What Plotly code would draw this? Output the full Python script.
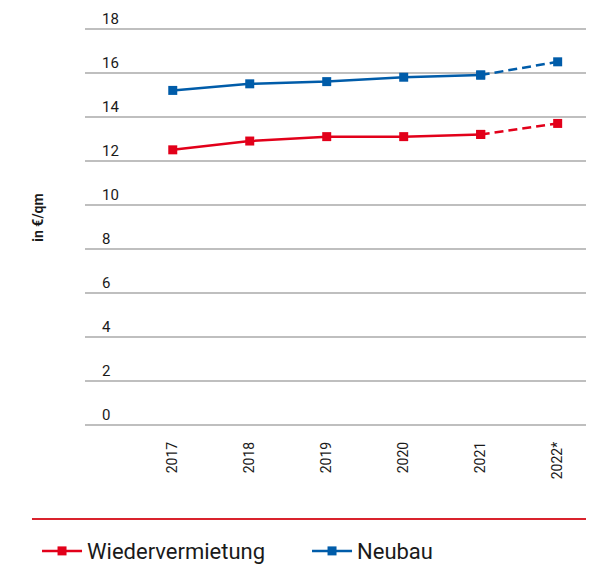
import plotly.graph_objects as go

years = ["2017", "2018", "2019", "2020", "2021", "2022*"]
wiedervermietung = [12.5, 12.9, 13.1, 13.1, 13.2, 13.7]
neubau = [15.2, 15.5, 15.6, 15.8, 15.9, 16.5]
y_ticks = [0, 2, 4, 6, 8, 10, 12, 14, 16, 18]

RED = "#e2001a"
BLUE = "#005ca9"
xi = list(range(len(years)))

fig = go.Figure()
for name, vals, col in [("Wiedervermietung", wiedervermietung, RED), ("Neubau", neubau, BLUE)]:
    fig.add_trace(go.Scatter(
        x=xi[4:], y=vals[4:], mode="lines+markers", name=name,
        line=dict(color=col, width=2.5, dash="9px,5px"),
        marker=dict(symbol="square", size=9, color=col),
        legendgroup=name, showlegend=False))
    fig.add_trace(go.Scatter(
        x=xi[:5], y=vals[:5], mode="lines+markers", name=name,
        line=dict(color=col, width=2.5),
        marker=dict(symbol="square", size=9, color=col),
        legendgroup=name, showlegend=True))

fig.add_shape(type="line", xref="paper", yref="paper",
              x0=-0.105, x1=1.0, y0=-0.223, y1=-0.223,
              line=dict(color="#d9232d", width=2))

fig.update_layout(
    width=586, height=559,
    margin=dict(l=77, r=4, t=1, b=141, autoexpand=False),
    paper_bgcolor="white", plot_bgcolor="white",
    font=dict(family="Roboto", color="#1a1a1a"),
    showlegend=True,
    legend=dict(orientation="h", x=-0.095, xanchor="left", y=-0.30, yanchor="middle",
                font=dict(size=22, color="#1a1a1a"), itemwidth=40,
                entrywidth=215, traceorder="normal"),
    xaxis=dict(range=[-1.14, 5.42], tickvals=xi, ticktext=years, tickangle=-90,
               showgrid=False, zeroline=False, showline=False, ticks="",
               tickfont=dict(size=14, color="#1a1a1a"), ticklabelstandoff=12),
    yaxis=dict(range=[-0.05, 18.9], tickvals=y_ticks, showgrid=True, gridcolor="#bfbfbf",
               gridwidth=2, zeroline=False, showline=False, ticks="",
               ticklabelposition="inside top", ticklabelstandoff=14,
               tickfont=dict(size=15, color="#1a1a1a"),
               title=dict(text="<b>in €/qm</b>", font=dict(size=14, color="#1a1a1a"), standoff=55)),
)

fig.write_html("out.html")
